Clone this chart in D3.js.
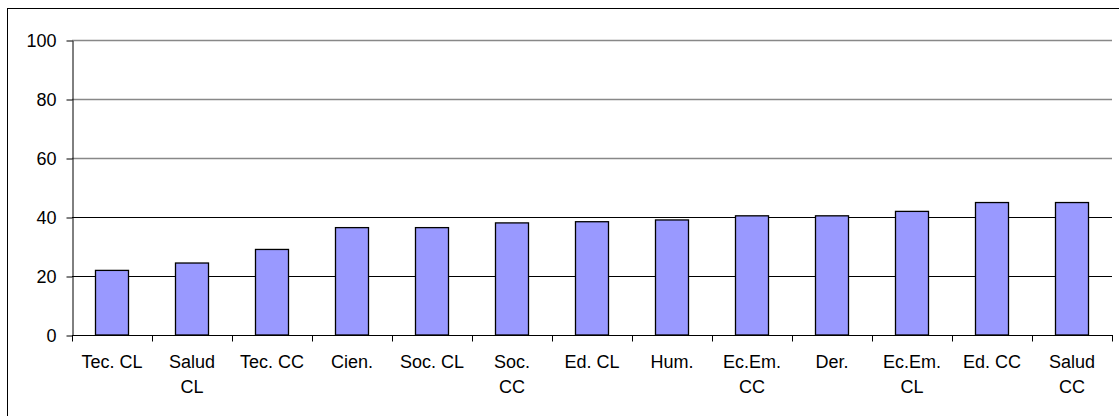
<!DOCTYPE html>
<html><head><meta charset="utf-8">
<script src="https://cdn.jsdelivr.net/npm/d3@7"></script>
<style>
html,body{margin:0;padding:0;background:#fff;}
svg{display:block;font-family:"Liberation Sans",Arial,sans-serif;}
</style></head>
<body><svg id="c" width="1119" height="416"></svg>
<script>
const categories = ["Tec. CL","Salud CL","Tec. CC","Cien.","Soc. CL","Soc. CC","Ed. CL","Hum.","Ec.Em. CC","Der.","Ec.Em. CL","Ed. CC","Salud CC"];
const tickLabels = [["Tec. CL"],["Salud","CL"],["Tec. CC"],["Cien."],["Soc. CL"],["Soc.","CC"],["Ed. CL"],["Hum."],["Ec.Em.","CC"],["Der."],["Ec.Em.","CL"],["Ed. CC"],["Salud","CC"]];
const values = [21.9,24.4,29.0,36.4,36.4,38.0,38.4,39.0,40.4,40.4,41.9,44.9,44.9];
const yTicks = [0,20,40,60,80,100];

const svg = d3.select("#c");
const pLeft = 72, pRight = 1112, pTop = 40, pBottom = 335;
const pIn = 0.5875;
const fs = 18;
const x = d3.scaleBand().domain(categories).range([pLeft, pRight]).paddingInner(pIn).paddingOuter(pIn/2);
const y = d3.scaleLinear().domain([0,100]).range([pBottom, pTop]);

// outer frame
svg.append("rect").attr("x",7.5).attr("y",8.5).attr("width",1300).attr("height",600)
  .attr("fill","none").attr("stroke","#000").attr("stroke-width",1);

// gridlines
svg.append("g").selectAll("line").data(yTicks.filter(d=>d>0)).join("line")
  .attr("x1",pLeft).attr("x2",pRight)
  .attr("y1",d=>y(d)+0.5).attr("y2",d=>y(d)+0.5)
  .attr("stroke",d=>d>=60?"#888":"#000")
  .attr("stroke-width",d=>d>=60?1.6:1);

// bars
svg.append("g").selectAll("rect").data(values).join("rect")
  .attr("x",(d,i)=>x(categories[i]))
  .attr("width",x.bandwidth())
  .attr("y",d=>y(d))
  .attr("height",d=>y(0)-y(d))
  .attr("fill","#9999FF").attr("stroke","#000").attr("stroke-width",1.3);

// y axis
const ya = svg.append("g").attr("transform",`translate(${pLeft+0.5},0.5)`)
  .call(d3.axisLeft(y).tickValues(yTicks).tickSize(6).tickPadding(10).tickSizeOuter(0));
ya.select(".domain").attr("stroke","#000");
ya.selectAll("line").attr("stroke","#000");
ya.selectAll("text").attr("font-size",fs).attr("fill","#000").attr("font-family","Liberation Sans, Arial, sans-serif");

// x axis line
svg.append("line").attr("x1",pLeft).attr("x2",pRight+1).attr("y1",y(0)+0.5).attr("y2",y(0)+0.5).attr("stroke","#000");
// x ticks at category boundaries
const bounds = categories.map(c=>x(c)+x.bandwidth()/2 - x.step()/2).concat([x(categories[categories.length-1])+x.bandwidth()/2 + x.step()/2]);
svg.append("g").selectAll("line").data(bounds).join("line")
  .attr("x1",d=>Math.round(d)+0.5).attr("x2",d=>Math.round(d)+0.5)
  .attr("y1",y(0)).attr("y2",y(0)+6.5).attr("stroke","#000");

// x labels
const lg = svg.append("g").attr("font-size",fs).attr("fill","#000").attr("text-anchor","middle");
tickLabels.forEach((lines,i)=>{
  const cx = x(categories[i]) + x.bandwidth()/2;
  const t = lg.append("text").attr("x",cx).attr("y",368);
  lines.forEach((l,j)=>{
    t.append("tspan").attr("x",cx).attr("y",368 + j*25).text(l);
  });
});
</script></body></html>
